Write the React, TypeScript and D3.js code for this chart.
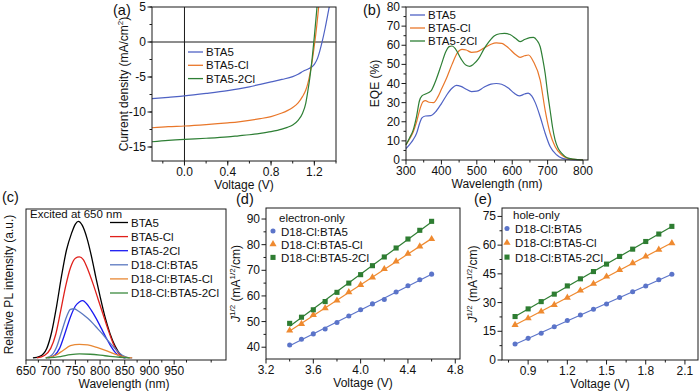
import React from "react";
import * as d3 from "d3";

const FONT = "'Liberation Sans', Arial, Helvetica, sans-serif";

// ---------- (a) J-V ----------
const seriesNamesA = ["BTA5", "BTA5-Cl", "BTA5-2Cl"];
const jvBTA5: [number, number][] = [
  [-0.3, -8.1], [-0.15, -7.9], [0, -7.7], [0.2, -7.35], [0.4, -6.95], [0.5, -6.7], [0.6, -6.4],
  [0.7, -6.05], [0.8, -5.7], [0.9, -5.35], [1.0, -4.95], [1.05, -4.6], [1.1, -4.15], [1.15, -3.8],
  [1.2, -3.2], [1.23, -2.3], [1.25, -1.3], [1.27, -0.1], [1.3, 2.0], [1.33, 4.4], [1.35, 6],
];
const jvBTA5Cl: [number, number][] = [
  [-0.3, -12.25], [-0.15, -12.1], [0, -12.0], [0.2, -11.8], [0.4, -11.55], [0.5, -11.4], [0.6, -11.2],
  [0.7, -10.95], [0.8, -10.65], [0.9, -10.15], [0.95, -9.8], [1.0, -9.35], [1.05, -8.7], [1.09, -7.8],
  [1.12, -6.9], [1.14, -5.9], [1.16, -4.5], [1.18, -2.7], [1.2, -0.5], [1.22, 2.0], [1.24, 5.0], [1.25, 6.5],
];
const jvBTA52Cl: [number, number][] = [
  [-0.3, -14.25], [-0.15, -14.05], [0, -13.9], [0.2, -13.75], [0.4, -13.55], [0.5, -13.4], [0.6, -13.25],
  [0.7, -13.05], [0.8, -12.8], [0.9, -12.45], [0.95, -12.2], [1.0, -11.85], [1.05, -11.2], [1.09, -10.2],
  [1.12, -8.8], [1.14, -7.0], [1.16, -4.9], [1.18, -2.3], [1.2, 0.8], [1.22, 4.2], [1.23, 6],
];
const aXTicks = [0, 0.4, 0.8, 1.2];
const aYTicks = [5, 0, -5, -10, -15];

// ---------- (b) EQE ----------
const eqeBTA5: [number, number][] = [
  [300, 6], [310, 8], [320, 10.5], [330, 14], [340, 20], [345, 22], [355, 23], [370, 23.2], [385, 25.5],
  [400, 29.5], [415, 34], [430, 37.5], [442, 39], [455, 38.5], [470, 37], [485, 35.8], [500, 36],
  [520, 38], [540, 39.7], [555, 40], [570, 39.6], [590, 37.5], [605, 35], [620, 33.5], [635, 34.5],
  [645, 35], [655, 33.5], [665, 30], [679, 22.6], [693, 14], [707, 7], [726, 2.6], [740, 1],
  [755, 0.4], [775, 0.05], [800, 0],
];
const eqeBTA5Cl: [number, number][] = [
  [300, 8], [310, 11], [320, 14.5], [330, 20], [340, 27], [348, 30.5], [355, 31], [365, 30.2], [378, 30],
  [390, 33], [400, 37], [415, 43], [430, 50], [445, 56], [458, 57.8], [470, 57.5], [485, 56.3],
  [500, 56.5], [520, 58.5], [540, 60.5], [555, 61.2], [570, 61], [590, 58.5], [610, 55], [622, 53.7],
  [635, 54.5], [646, 54.9], [660, 51.4], [679, 41.8], [693, 26], [707, 14], [721, 7], [740, 2.6],
  [755, 1], [773, 0.3], [800, 0],
];
const eqeBTA52Cl: [number, number][] = [
  [300, 8], [310, 11.5], [320, 15.5], [330, 23], [338, 31], [345, 33.5], [355, 34.5], [370, 36],
  [385, 42], [400, 50], [412, 56.5], [422, 59.3], [430, 59.6], [440, 58], [455, 53], [470, 49.5],
  [480, 49], [490, 50], [505, 53], [520, 58], [535, 62], [550, 65], [565, 66], [578, 66.2],
  [595, 65.5], [610, 63.5], [622, 61.9], [635, 63], [650, 64], [660, 64.1], [670, 62.5], [679, 59.2],
  [686, 53], [693, 45.3], [700, 35], [707, 26], [714, 17], [721, 10.5], [730, 6], [740, 3.5],
  [755, 1.2], [773, 0.5], [800, 0],
];
const bXTicks = [300, 400, 500, 600, 700, 800];
const bYTicks = [0, 10, 20, 30, 40, 50, 60, 70, 80];

// ---------- (c) PL ----------
const seriesNamesC = ["BTA5", "BTA5-Cl", "BTA5-2Cl", "D18-Cl:BTA5", "D18-Cl:BTA5-Cl", "D18-Cl:BTA5-2Cl"];
const plBTA5: [number, number][] = [
  [664, 0], [678, 0.012], [692, 0.07], [702, 0.19], [712, 0.38], [722, 0.6], [732, 0.79], [742, 0.91],
  [750, 0.98], [756, 1.0], [764, 0.97], [774, 0.87], [784, 0.72], [792, 0.58], [800, 0.45], [810, 0.3],
  [820, 0.18], [830, 0.09], [840, 0.03], [850, 0],
];
const plBTA5Cl: [number, number][] = [
  [672, 0], [688, 0.02], [700, 0.07], [710, 0.17], [720, 0.34], [730, 0.52], [740, 0.66], [750, 0.73],
  [758, 0.74], [766, 0.72], [776, 0.64], [786, 0.54], [796, 0.43], [806, 0.32], [816, 0.21],
  [826, 0.11], [836, 0.04], [848, 0],
];
const plBTA52Cl: [number, number][] = [
  [695, 0], [708, 0.02], [718, 0.07], [728, 0.17], [740, 0.3], [750, 0.38], [758, 0.41], [765, 0.42],
  [772, 0.4], [782, 0.35], [792, 0.29], [802, 0.22], [812, 0.15], [822, 0.085], [832, 0.035],
  [842, 0.01], [852, 0],
];
const plD18BTA5: [number, number][] = [
  [690, 0], [702, 0.02], [712, 0.08], [722, 0.19], [732, 0.3], [740, 0.355], [747, 0.36], [755, 0.345],
  [765, 0.32], [775, 0.29], [785, 0.255], [795, 0.215], [805, 0.175], [815, 0.13], [825, 0.09],
  [835, 0.05], [845, 0.02], [855, 0.005], [865, 0],
];
const plD18BTA5Cl: [number, number][] = [
  [690, 0], [710, 0.02], [725, 0.055], [740, 0.09], [758, 0.1], [775, 0.095], [795, 0.075], [815, 0.05],
  [835, 0.022], [850, 0.006], [865, 0],
];
const plD18BTA52Cl: [number, number][] = [
  [690, 0], [720, 0.01], [740, 0.024], [758, 0.03], [780, 0.027], [810, 0.016], [840, 0.005], [860, 0],
];
const cXTicks = [650, 700, 750, 800, 850, 900, 950];

// ---------- (d) electron-only ----------
const seriesNamesDE = ["D18-Cl:BTA5", "D18-Cl:BTA5-Cl", "D18-Cl:BTA5-2Cl"];
const dVoltage = [3.4, 3.5, 3.6, 3.7, 3.8, 3.9, 4.0, 4.1, 4.2, 4.3, 4.4, 4.5, 4.6];
const dBTA5 = [40.9, 43.1, 45.2, 47.1, 49.6, 52.2, 54.6, 56.9, 58.6, 61.5, 64.0, 66.3, 68.5];
const dBTA5Cl = [46.5, 49.1, 52.6, 55.2, 58.2, 61.5, 64.3, 67.2, 70.5, 73.5, 76.5, 79.3, 82.2];
const dBTA52Cl = [49.3, 51.7, 54.6, 57.8, 61.4, 65.0, 68.3, 71.8, 75.2, 78.7, 82.2, 85.6, 89.1];
const dXTicks = [3.2, 3.6, 4.0, 4.4, 4.8];
const dYTicks = [40, 50, 60, 70, 80, 90];

// ---------- (e) hole-only ----------
const eVoltage = [0.8, 0.9, 1.0, 1.1, 1.2, 1.3, 1.4, 1.5, 1.6, 1.7, 1.8, 1.9, 2.0];
const eBTA5 = [8.4, 11.3, 14.0, 17.4, 20.6, 23.5, 26.5, 29.3, 32.6, 35.6, 38.7, 41.9, 44.8];
const eBTA5Cl = [18.3, 21.8, 25.3, 28.8, 32.6, 36.3, 39.8, 43.6, 47.1, 50.6, 54.1, 57.6, 61.0];
const eBTA52Cl = [22.7, 26.7, 30.5, 34.4, 38.7, 42.4, 46.2, 50.1, 54.1, 57.9, 61.9, 65.8, 69.8];
const eXTicks = [0.9, 1.2, 1.5, 1.8, 2.1];
const eYTicks = [0, 15, 30, 45, 60, 75];

// ---------- styles ----------
const C_BLUE = "#4f62c4";
const C_ORANGE = "#e9772a";
const C_GREEN = "#2e7f35";
const PL_COLORS = ["#000000", "#e0201b", "#1a1af2", "#5a78c0", "#e88834", "#3b8a3e"];
const M_COLORS = ["#5b74c9", "#ef8a30", "#2e7d32"];
const FS = 12;

type Lin = d3.ScaleLinear<number, number>;

function fit(xs: number[], ys: number[]) {
  const mx = d3.mean(xs)!;
  const my = d3.mean(ys)!;
  let sxy = 0, sxx = 0;
  xs.forEach((x, i) => { sxy += (x - mx) * (ys[i] - my); sxx += (x - mx) * (x - mx); });
  const b = sxy / sxx;
  return (x: number) => my + b * (x - mx);
}

function Frame(props: {
  x: Lin; y: Lin; xTicks: number[]; xMinor: number[]; yTicks?: number[]; yMinor?: number[];
  xFmt: (v: number) => string; yFmt?: (v: number) => string; xTitle: string; xTitleX?: number;
  yTitle: React.ReactNode; yTitleX: number; label: string; labelX: number; labelY: number;
}) {
  const { x, y } = props;
  const [x0, x1] = x.range();
  const [y0, y1] = y.range();
  const stroke = "#1a1a1a";
  return (
    <g>
      <rect x={x0} y={y1} width={x1 - x0} height={y0 - y1} fill="none" stroke={stroke} strokeWidth={1} />
      {props.xMinor.map((t, i) => (
        <line key={"xm" + i} x1={x(t)} x2={x(t)} y1={y0} y2={y0 + 2.5} stroke={stroke} strokeWidth={1} />
      ))}
      {props.xTicks.map((t, i) => (
        <g key={"xt" + i}>
          <line x1={x(t)} x2={x(t)} y1={y0} y2={y0 + 4.5} stroke={stroke} strokeWidth={1} />
          <text x={x(t)} y={y0 + 15} textAnchor="middle" fontSize={FS} fill="#111">{props.xFmt(t)}</text>
        </g>
      ))}
      {(props.yMinor || []).map((t, i) => (
        <line key={"ym" + i} x1={x0} x2={x0 - 2.5} y1={y(t)} y2={y(t)} stroke={stroke} strokeWidth={1} />
      ))}
      {(props.yTicks || []).map((t, i) => (
        <g key={"yt" + i}>
          <line x1={x0} x2={x0 - 4.5} y1={y(t)} y2={y(t)} stroke={stroke} strokeWidth={1} />
          <text x={x0 - 6} y={y(t) + 4} textAnchor="end" fontSize={FS} fill="#111">{props.yFmt!(t)}</text>
        </g>
      ))}
      <text x={props.xTitleX ?? (x0 + x1) / 2} y={y0 + 27.5} textAnchor="middle" fontSize={FS} fill="#111">{props.xTitle}</text>
      <text transform={`translate(${props.yTitleX},${(y0 + y1) / 2}) rotate(-90)`} textAnchor="middle" fontSize={FS} fill="#111">
        {props.yTitle}
      </text>
      <text x={props.labelX} y={props.labelY} fontSize={14.5} fill="#111">{props.label}</text>
    </g>
  );
}

function minorRange(a: number, b: number, step: number) {
  const n = Math.floor((b - a) / step + 1e-6);
  return d3.range(0, n + 1).map((i) => a + i * step);
}

const fmt1 = (v: number) => v.toFixed(1);
const fmtInt = (v: number) => String(v);

function PanelA() {
  const x = d3.scaleLinear().domain([-0.3, 1.4]).range([152, 336]);
  const y = d3.scaleLinear().domain([-17, 5]).range([161, 7]);
  const line = d3.line<[number, number]>().x((d) => x(d[0])).y((d) => y(d[1])).curve(d3.curveMonotoneX);
  const series = [jvBTA5, jvBTA5Cl, jvBTA52Cl];
  const colors = [C_BLUE, C_ORANGE, C_GREEN];
  return (
    <g>
      <defs>
        <clipPath id="clipA"><rect x={152} y={7} width={184} height={154} /></clipPath>
      </defs>
      <line x1={152} x2={336} y1={y(0)} y2={y(0)} stroke="#1a1a1a" strokeWidth={1} />
      <line x1={x(0)} x2={x(0)} y1={7} y2={161} stroke="#1a1a1a" strokeWidth={1} />
      <g clipPath="url(#clipA)">
        {series.map((s, i) => (
          <path key={i} d={line(s)!} fill="none" stroke={colors[i]} strokeWidth={1.2} />
        ))}
      </g>
      <Frame x={x} y={y} xTicks={aXTicks} xMinor={minorRange(-0.2, 1.4, 0.2)} yTicks={aYTicks}
        yMinor={minorRange(-15, 5, 2.5)} xFmt={fmt1} yFmt={fmtInt} xTitle="Voltage (V)"
        yTitle={<><tspan>Current density (mA/cm</tspan><tspan fontSize={8} dy={-5}>2</tspan><tspan dy={5}>)</tspan></>}
        yTitleX={128} label="(a)" labelX={113} labelY={15} />
      {seriesNamesA.map((n, i) => (
        <g key={n}>
          <line x1={188} x2={203} y1={52 + i * 13.3} y2={52 + i * 13.3} stroke={colors[i]} strokeWidth={1.3} />
          <text x={206} y={52 + i * 13.3 + 4} fontSize={11.5} fill="#111">{n}</text>
        </g>
      ))}
    </g>
  );
}

function PanelB() {
  const x = d3.scaleLinear().domain([300, 814]).range([406, 588]);
  const y = d3.scaleLinear().domain([0, 80]).range([160, 7]);
  const line = d3.line<[number, number]>().x((d) => x(d[0])).y((d) => y(d[1])).curve(d3.curveMonotoneX);
  const series = [eqeBTA5, eqeBTA5Cl, eqeBTA52Cl];
  const colors = [C_BLUE, C_ORANGE, C_GREEN];
  return (
    <g>
      {series.map((s, i) => (
        <path key={i} d={line(s)!} fill="none" stroke={colors[i]} strokeWidth={1.2} />
      ))}
      <Frame x={x} y={y} xTicks={bXTicks} xMinor={minorRange(350, 814, 100)} yTicks={bYTicks}
        yMinor={minorRange(5, 80, 10)} xFmt={fmtInt} yFmt={fmtInt} xTitle="Wavelength (nm)"
        yTitle="EQE (%)" yTitleX={379} label="(b)" labelX={363} labelY={15} />
      {seriesNamesA.map((n, i) => (
        <g key={n}>
          <line x1={410} x2={425} y1={15 + i * 13} y2={15 + i * 13} stroke={colors[i]} strokeWidth={1.3} />
          <text x={428} y={15 + i * 13 + 4} fontSize={11.5} fill="#111">{n}</text>
        </g>
      ))}
    </g>
  );
}

function PanelC() {
  const x = d3.scaleLinear().domain([650, 1055]).range([26, 226]);
  const y = d3.scaleLinear().domain([-0.015, 1.09]).range([360, 209]);
  const line = d3.line<[number, number]>().x((d) => x(d[0])).y((d) => y(d[1])).curve(d3.curveMonotoneX);
  const series = [plBTA5, plBTA5Cl, plBTA52Cl, plD18BTA5, plD18BTA5Cl, plD18BTA52Cl];
  return (
    <g>
      {series.map((s, i) => (
        <path key={i} d={line(s)!} fill="none" stroke={PL_COLORS[i]} strokeWidth={1.3} />
      ))}
      <Frame x={x} y={y} xTicks={cXTicks} xMinor={minorRange(675, 1055, 50)} xFmt={fmtInt}
        xTitle="Wavelength (nm)" xTitleX={124} yTitle="Relative PL intensity (a.u.)" yTitleX={13}
        label="(c)" labelX={2} labelY={202} />
      <text x={30} y={218} fontSize={11.5} fill="#111">Excited at 650 nm</text>
      {seriesNamesC.map((n, i) => (
        <g key={n}>
          <line x1={110} x2={128} y1={222.5 + i * 14.1} y2={222.5 + i * 14.1} stroke={PL_COLORS[i]} strokeWidth={1.3} />
          <text x={131} y={222.5 + i * 14.1 + 4} fontSize={11.5} fill="#111">{n}</text>
        </g>
      ))}
    </g>
  );
}

const symTypes = [d3.symbolCircle, d3.symbolTriangle, d3.symbolSquare];
const symSizes = [20, 22, 26];

function Markers({ xs, ys, x, y, idx }: { xs: number[]; ys: number[]; x: Lin; y: Lin; idx: number }) {
  const sym = d3.symbol().type(symTypes[idx]).size(symSizes[idx]);
  const f = fit(xs, ys);
  const xa = xs[0], xb = xs[xs.length - 1];
  return (
    <g>
      <line x1={x(xa)} x2={x(xb)} y1={y(f(xa))} y2={y(f(xb))} stroke={M_COLORS[idx]} strokeWidth={1.2} />
      {xs.map((v, i) => (
        <path key={i} d={sym()!} transform={`translate(${x(v)},${y(ys[i])})`} fill={M_COLORS[idx]} />
      ))}
    </g>
  );
}

function JTitle() {
  return (
    <>
      <tspan fontStyle="italic">J</tspan>
      <tspan fontSize={8} dy={-5}>1/2</tspan>
      <tspan dy={5}> (mA</tspan>
      <tspan fontSize={8} dy={-5}>1/2</tspan>
      <tspan dy={5}>/cm)</tspan>
    </>
  );
}

function Legend3({ x, y0, dy, title }: { x: number; y0: number; dy: number; title: string }) {
  return (
    <g>
      <text x={x + 6} y={y0 - dy + 4.5} fontSize={11.5} fill="#111">{title}</text>
      {seriesNamesDE.map((n, i) => {
        const sym = d3.symbol().type(symTypes[i]).size(symSizes[i]);
        return (
          <g key={n}>
            <path d={sym()!} transform={`translate(${x},${y0 + i * dy})`} fill={M_COLORS[i]} />
            <text x={x + 8} y={y0 + i * dy + 4.5} fontSize={11.5} fill="#111">{n}</text>
          </g>
        );
      })}
    </g>
  );
}

function PanelD() {
  const x = d3.scaleLinear().domain([3.2, 4.84]).range([266, 460]);
  const y = d3.scaleLinear().domain([35.4, 94.3]).range([359, 208]);
  const data = [dBTA5, dBTA5Cl, dBTA52Cl];
  return (
    <g>
      {data.map((ys, i) => <Markers key={i} xs={dVoltage} ys={ys} x={x} y={y} idx={i} />)}
      <Frame x={x} y={y} xTicks={dXTicks} xMinor={minorRange(3.4, 4.84, 0.4)} yTicks={dYTicks}
        yMinor={minorRange(45, 94, 10)} xFmt={fmt1} yFmt={fmtInt} xTitle="Voltage (V)"
        yTitle={<JTitle />} yTitleX={240} label="(d)" labelX={236} labelY={204} />
      <Legend3 x={273} y0={231} dy={13.2} title="electron-only" />
    </g>
  );
}

function PanelE() {
  const x = d3.scaleLinear().domain([0.7, 2.2]).range([502, 698]);
  const y = d3.scaleLinear().domain([0, 79.4]).range([360, 208]);
  const data = [eBTA5, eBTA5Cl, eBTA52Cl];
  return (
    <g>
      {data.map((ys, i) => <Markers key={i} xs={eVoltage} ys={ys} x={x} y={y} idx={i} />)}
      <Frame x={x} y={y} xTicks={eXTicks} xMinor={minorRange(0.75, 2.2, 0.3)} yTicks={eYTicks}
        yMinor={minorRange(7.5, 79, 15)} xFmt={fmt1} yFmt={fmtInt} xTitle="Voltage (V)"
        yTitle={<JTitle />} yTitleX={477} label="(e)" labelX={474} labelY={204} />
      <Legend3 x={507} y0={228.5} dy={14.3} title="hole-only" />
    </g>
  );
}

export default function App() {
  return (
    <svg width={700} height={392} style={{ position: "absolute", left: 0, top: 0, background: "#fff" }}
      fontFamily={FONT}>
      <rect width={700} height={392} fill="#fff" />
      <PanelA />
      <PanelB />
      <PanelC />
      <PanelD />
      <PanelE />
    </svg>
  );
}
